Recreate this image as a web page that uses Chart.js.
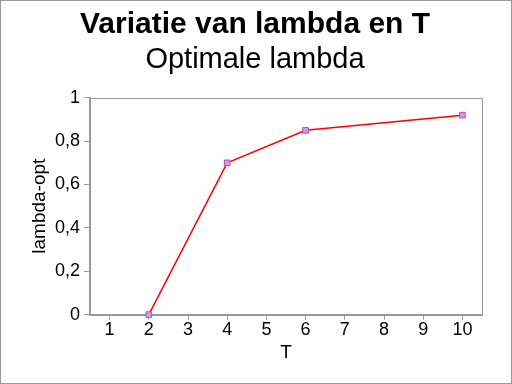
<!DOCTYPE html>
<html lang="nl">
<head>
<meta charset="UTF-8">
<title>Variatie van lambda en T</title>
<style>
body { margin: 0; padding: 0; background: #fff; }
#wrap { width: 512px; height: 384px; }
</style>
</head>
<body>
<div id="wrap"><canvas id="chart" width="512" height="384"></canvas></div>
<script src="https://cdn.jsdelivr.net/npm/chart.js"></script>
<script>
// data
const tValues = [2, 4, 6, 10];
const lambdaOpt = [0, 0.7, 0.85, 0.92];
const xTicks = [1, 2, 3, 4, 5, 6, 7, 8, 9, 10];
const yMin = 0, yMax = 1, yStep = 0.1;

const FONT = "'Liberation Sans', Arial, sans-serif";

// grey outer frame plus the top and right edges of the plot box
const framePlugin = {
    id: 'frame',
    afterDraw(chart) {
        const c = chart.ctx, a = chart.chartArea;
        c.save();
        c.strokeStyle = '#999';
        c.lineWidth = 1;
        c.strokeRect(0.5, 0.5, chart.width - 1, chart.height - 1);
        c.beginPath();
        c.moveTo(a.left, Math.round(a.top) + 0.5);
        c.lineTo(Math.round(a.right) + 0.5, Math.round(a.top) + 0.5);
        c.lineTo(Math.round(a.right) + 0.5, a.bottom);
        c.stroke();
        c.restore();
    }
};

new Chart(document.getElementById('chart'), {
    type: 'line',
    data: {
        datasets: [{
            data: tValues.map((t, i) => ({ x: t, y: lambdaOpt[i] })),
            borderColor: '#ff0000',
            borderWidth: 1.5,
            tension: 0,
            pointStyle: 'rect',
            pointRadius: 4,
            pointBackgroundColor: '#b3a4f2',
            pointBorderColor: '#e0409f',
            pointBorderWidth: 1,
            clip: false
        }]
    },
    options: {
        responsive: false,
        animation: false,
        devicePixelRatio: 1,
        layout: { padding: { left: 28, right: 30, top: 0, bottom: 20 } },
        plugins: {
            legend: { display: false },
            tooltip: { enabled: false },
            title: {
                display: true,
                text: 'Variatie van lambda en T',
                color: '#000',
                font: { family: FONT, size: 30, weight: 'bold' },
                padding: { top: 7, bottom: 0 }
            },
            subtitle: {
                display: true,
                text: 'Optimale lambda',
                color: '#000',
                font: { family: FONT, size: 29 },
                padding: { top: 0, bottom: 20 }
            }
        },
        scales: {
            x: {
                type: 'linear',
                min: 0.5,
                max: 10.5,
                afterBuildTicks: s => { s.ticks = xTicks.map(v => ({ value: v })); },
                ticks: {
                    color: '#000',
                    font: { family: FONT, size: 18 },
                    padding: 0,
                    maxRotation: 0
                },
                grid: { drawOnChartArea: false, tickLength: 5, color: '#999' },
                border: { color: '#999', width: 2 },
                title: {
                    display: true,
                    text: 'T',
                    color: '#000',
                    font: { family: FONT, size: 19 },
                    padding: 0
                }
            },
            y: {
                min: yMin,
                max: yMax,
                ticks: {
                    stepSize: yStep,
                    color: '#000',
                    font: { family: FONT, size: 18 },
                    padding: 4,
                    callback: v => Math.round(v * 10) % 2 === 0
                        ? String(Math.round(v * 10) / 10).replace('.', ',') : ''
                },
                grid: { drawOnChartArea: false, tickLength: 6, color: '#999' },
                border: { color: '#999', width: 2 },
                title: {
                    display: true,
                    text: 'lambda-opt',
                    color: '#000',
                    font: { family: FONT, size: 19 },
                    padding: 0
                },
                afterFit: s => { s.width = 62; }
            }
        }
    },
    plugins: [framePlugin]
});
</script>
</body>
</html>
